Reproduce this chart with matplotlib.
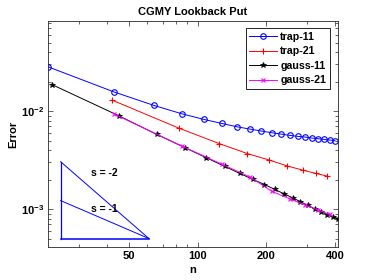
import matplotlib
matplotlib.use("Agg")
import matplotlib.pyplot as plt
from matplotlib.ticker import FixedLocator, FixedFormatter, NullFormatter

plt.rcParams['font.family'] = ['Liberation Sans', 'DejaVu Sans']
plt.rcParams['font.weight'] = 'bold'
plt.rcParams['mathtext.fontset'] = 'custom'
plt.rcParams['mathtext.rm'] = 'Liberation Sans:bold'
plt.rcParams['mathtext.bf'] = 'Liberation Sans:bold'
plt.rcParams['mathtext.default'] = 'rm'

# ---- data ----
n_trap11 = [22, 43, 64, 85, 106, 127, 148, 169, 190, 211, 232, 253, 274, 295, 316, 337, 358, 379, 400]
err_trap11 = [0.0283, 0.01563, 0.01144, 0.00938, 0.00823, 0.00749, 0.00692, 0.00655, 0.00625, 0.00601,
              0.00582, 0.00565, 0.00552, 0.00543, 0.00530, 0.00522, 0.00514, 0.00506, 0.00498]

n_trap21 = [42, 83, 124, 165, 206, 247, 288, 329, 370]
err_trap21 = [0.01295, 0.00666, 0.00466, 0.00368, 0.00316, 0.00275, 0.00250, 0.00231, 0.00217]

n_gauss11 = [23, 45, 66, 88, 109, 131, 153, 174, 196, 217, 239, 261, 282, 304, 325, 347, 369, 390, 412]
err_gauss11 = [0.01855, 0.00895, 0.00578, 0.00422, 0.00334, 0.00273, 0.00231, 0.00201, 0.00178, 0.00159,
               0.00143, 0.00130, 0.001187, 0.001091, 0.001007, 0.000938, 0.000879, 0.000838, 0.000800]

n_gauss21 = [43, 85, 127, 169, 211, 253, 295, 337, 379]
err_gauss21 = [0.0093, 0.00440, 0.00288, 0.00213, 0.00152, 0.00127, 0.00110, 0.00098, 0.00088]

tri_n = [25, 61]
tri_bottom = 5.0e-4
tri_top2 = 3.04e-3
tri_top1 = 1.22e-3

x_ticks = [50, 100, 200, 400]
x_minor = [30, 40, 60, 70, 80, 90, 300]
y_ticks = [1e-3, 1e-2]
y_ticklabels = [r'$10^{-3}$', r'$10^{-2}$']

fig = plt.figure(figsize=(3.74, 2.80), dpi=100)
ax = fig.add_axes([48/374, 1-247/280, 290/374, 226/280])

lw = 0.7
ax.plot(n_trap11, err_trap11, '-o', color='blue', lw=lw, ms=4, mfc='none', mew=0.8, label='trap-11')
ax.plot(n_trap21, err_trap21, '-+', color='red', lw=lw, ms=5, mew=0.8, label='trap-21')
ax.plot(n_gauss11, err_gauss11, '-*', color='black', lw=lw, ms=4, mew=0.5, label='gauss-11')
ax.plot(n_gauss21, err_gauss21, '-x', color='magenta', lw=lw, ms=3.5, mew=0.8, label='gauss-21')

# slope triangle
ax.plot([tri_n[0], tri_n[0]], [tri_bottom, tri_top2], color='blue', lw=0.9)
ax.plot(tri_n, [tri_bottom, tri_bottom], color='blue', lw=1.1)
ax.plot(tri_n, [tri_top2, tri_bottom], color='blue', lw=0.7)
ax.plot(tri_n, [tri_top1, tri_bottom], color='blue', lw=0.7)
ax.text(33.9, 2.34e-3, 's = -2', fontsize=7.5, fontweight='bold', ha='left', va='center')
ax.text(33.9, 1.0e-3, 's = -1', fontsize=7.5, fontweight='bold', ha='left', va='center')

ax.set_xscale('log')
ax.set_yscale('log')
ax.set_xlim(22, 412)
ax.set_ylim(4.1e-4, 8.3e-2)

ax.xaxis.set_major_locator(FixedLocator(x_ticks))
ax.xaxis.set_major_formatter(FixedFormatter([str(t) for t in x_ticks]))
ax.xaxis.set_minor_locator(FixedLocator(x_minor))
ax.xaxis.set_minor_formatter(NullFormatter())
ax.yaxis.set_major_locator(FixedLocator(y_ticks))
ax.yaxis.set_major_formatter(FixedFormatter(y_ticklabels))
ymin = [m * 10.0**e for e in (-4, -3, -2) for m in range(2, 10)]
ax.yaxis.set_minor_locator(FixedLocator(ymin))
ax.yaxis.set_minor_formatter(NullFormatter())

gray = '#262626'
for s in ax.spines.values():
    s.set_color(gray)
    s.set_linewidth(0.6)
ax.tick_params(which='both', direction='in', top=True, right=True, colors=gray,
               labelsize=8, width=0.5, labelcolor='black')
ax.tick_params(which='major', length=3.5, pad=3)
ax.tick_params(which='minor', length=2)

ax.set_title('CGMY Lookback Put', fontsize=8, fontweight='bold', pad=4)
ax.set_xlabel('n', fontsize=8, fontweight='bold', labelpad=3)
ax.set_ylabel('Error', fontsize=8, fontweight='bold', labelpad=2)

leg = ax.legend(loc='upper right', bbox_to_anchor=(0.972, 0.968), fontsize=7.7,
                handlelength=2.6, handletextpad=0.3, labelspacing=0.42, borderpad=0.35,
                fancybox=False, edgecolor='black', framealpha=1, numpoints=1, borderaxespad=0)
leg.get_frame().set_linewidth(0.6)

fig.savefig('out.png', dpi=100)
